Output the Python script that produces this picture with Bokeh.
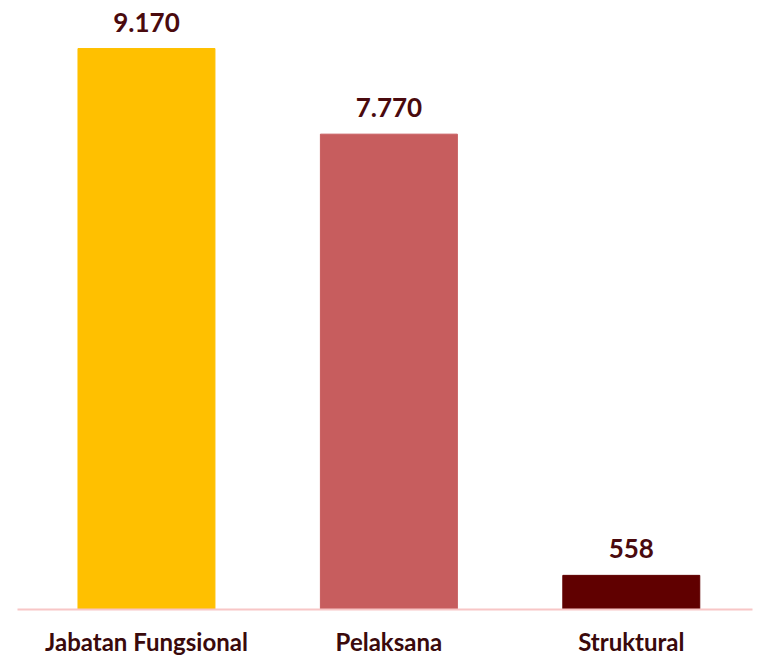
from bokeh.plotting import figure
from bokeh.models import ColumnDataSource, FixedTicker, Range1d
from bokeh.core.properties import value
from bokeh.embed import file_html
from bokeh.resources import INLINE

categories = ["Jabatan Fungsional", "Pelaksana", "Struktural"]
counts = [9170, 7770, 558]
colors = ["#FFC000", "#C75D5E", "#600000"]

xs = list(range(len(categories)))
labels = [f"{v:,}".replace(",", ".") for v in counts]

src = ColumnDataSource(dict(x=xs, top=counts, color=colors, label=labels))

p = figure(width=762, height=658, output_backend="svg", toolbar_location=None,
           x_range=Range1d(-0.532, 2.5), y_range=Range1d(0, 9955),
           min_border_left=17, min_border_right=10, min_border_top=0, min_border_bottom=49)
p.outline_line_color = None
p.background_fill_color = "white"
p.border_fill_color = "white"
p.xgrid.visible = False
p.ygrid.visible = False
p.yaxis.visible = False

p.vbar(x="x", top="top", width=0.565, color="color", source=src)
p.text(x="x", y="top", text="label", source=src, text_align="center",
       text_baseline="bottom", y_offset=-17, text_font=value("Lato"),
       text_font_style="bold", text_font_size="26px", text_color="#4A0A0E")

ax = p.xaxis[0]
ax.ticker = FixedTicker(ticks=xs)
ax.major_label_overrides = {i: c for i, c in zip(xs, categories)}
ax.axis_line_color = "#F8C6C6"
ax.axis_line_width = 2
ax.major_tick_line_color = None
ax.minor_tick_line_color = None
ax.major_label_standoff = 11
ax.major_label_text_font = "Lato"
ax.major_label_text_font_style = "bold"
ax.major_label_text_font_size = "24px"
ax.major_label_text_color = "#3A0A0C"

open("out.html", "w").write(file_html(p, INLINE))
